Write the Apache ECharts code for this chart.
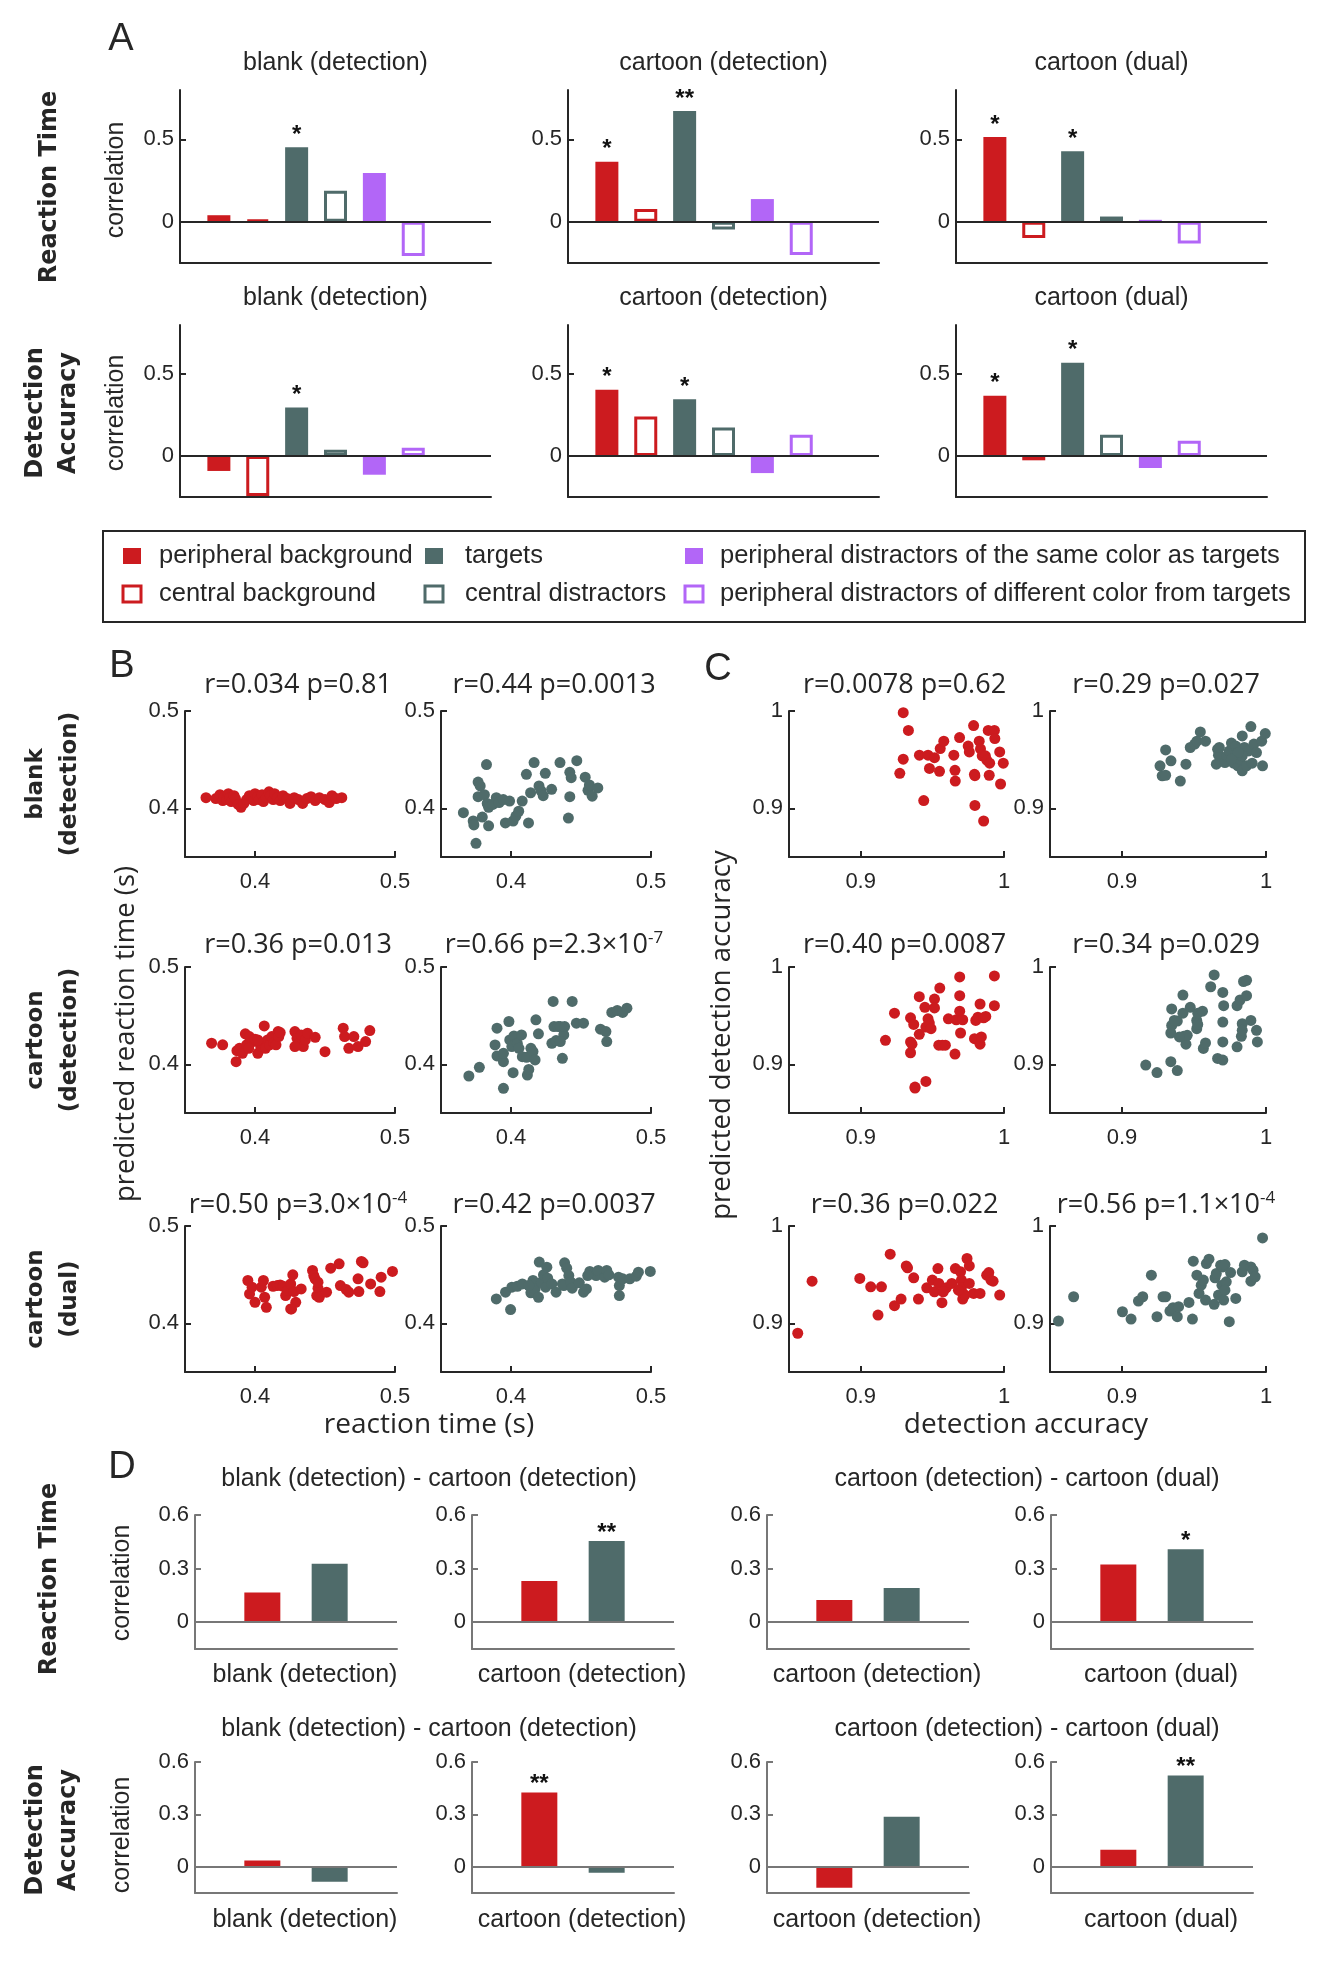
<!DOCTYPE html>
<html><head><meta charset="utf-8">
<script src="https://cdn.jsdelivr.net/npm/echarts@6/dist/echarts.min.js"></script>
<style>html,body{margin:0;padding:0;background:#fff}#c{width:1317px;height:1975px}</style>
</head><body><div id="c"></div>
<script>
// ---------------- DATA ----------------
const CONDITIONS = ['blank (detection)', 'cartoon (detection)', 'cartoon (dual)'];
const LEGEND_LABELS = ['peripheral background', 'central background', 'targets', 'central distractors',
  'peripheral distractors of the same color as targets', 'peripheral distractors of different color from targets'];

// Panel A: correlation per region (order = legend order)
const RT_BLANK = [0.04, 0.012, 0.453, 0.188, 0.296, -0.208];
const RT_CDET  = [0.364, 0.077, 0.672, -0.047, 0.138, -0.202];
const RT_CDUAL = [0.514, -0.099, 0.429, 0.032, 0.012, -0.132];
const DA_BLANK = [-0.091, -0.244, 0.297, 0.039, -0.114, 0.051];
const DA_CDET  = [0.404, 0.242, 0.346, 0.175, -0.104, 0.13];
const DA_CDUAL = [0.368, -0.026, 0.569, 0.13, -0.073, 0.093];
const RT_BLANK_SIG = ['', '', '*', '', '', ''];
const RT_CDET_SIG  = ['*', '', '**', '', '', ''];
const RT_CDUAL_SIG = ['*', '', '*', '', '', ''];
const DA_BLANK_SIG = ['', '', '*', '', '', ''];
const DA_CDET_SIG  = ['*', '', '*', '', '', ''];
const DA_CDUAL_SIG = ['*', '', '*', '', '', ''];
const A_YTICKS = [0, 0.5];

// Panel B: [reaction time, predicted reaction time]
const B_BLANK_BG = [[0.365,0.411],[0.372,0.410],[0.375,0.414],[0.377,0.408],[0.378,0.412],[0.380,0.409],[0.381,0.415],[0.382,0.411],[0.383,0.407],[0.385,0.413],[0.386,0.410],[0.388,0.404],[0.390,0.401],[0.392,0.405],[0.394,0.409],[0.396,0.413],[0.398,0.411],[0.399,0.408],[0.400,0.415],[0.402,0.412],[0.403,0.409],[0.405,0.414],[0.406,0.407],[0.408,0.411],[0.410,0.417],[0.411,0.413],[0.413,0.409],[0.414,0.415],[0.416,0.411],[0.418,0.408],[0.420,0.413],[0.423,0.410],[0.425,0.405],[0.428,0.411],[0.431,0.409],[0.434,0.405],[0.437,0.410],[0.440,0.412],[0.443,0.408],[0.446,0.411],[0.450,0.409],[0.453,0.406],[0.455,0.413],[0.458,0.410],[0.462,0.411]];
const B_BLANK_TG = [[0.366,0.3955],[0.373,0.387],[0.3735,0.383],[0.375,0.364],[0.3765,0.427],[0.3765,0.412],[0.378,0.423],[0.3795,0.391],[0.381,0.414],[0.3825,0.445],[0.383,0.405],[0.384,0.382],[0.384,0.401],[0.387,0.404],[0.3895,0.411],[0.3915,0.406],[0.3945,0.409],[0.396,0.385],[0.399,0.4075],[0.4015,0.387],[0.4035,0.392],[0.4055,0.397],[0.408,0.4075],[0.411,0.435],[0.4125,0.385],[0.414,0.416],[0.4165,0.447],[0.420,0.423],[0.4215,0.418],[0.423,0.413],[0.4245,0.436],[0.429,0.4195],[0.435,0.447],[0.441,0.390],[0.442,0.412],[0.442,0.437],[0.443,0.4315],[0.447,0.449],[0.453,0.432],[0.455,0.4185],[0.456,0.424],[0.458,0.4125],[0.462,0.421]];
const B_CDET_BG = [[0.369,0.4217],[0.3769,0.420],[0.3865,0.4027],[0.3871,0.414],[0.3889,0.4165],[0.391,0.4113],[0.3931,0.4313],[0.394,0.420],[0.396,0.4285],[0.3985,0.4234],[0.400,0.4258],[0.402,0.4113],[0.404,0.4189],[0.405,0.4216],[0.4066,0.4395],[0.4075,0.4165],[0.409,0.4251],[0.4105,0.420],[0.412,0.4285],[0.4135,0.4223],[0.415,0.420],[0.4165,0.4337],[0.417,0.4285],[0.418,0.4326],[0.4285,0.4337],[0.430,0.4268],[0.4315,0.4216],[0.433,0.4302],[0.4345,0.4182],[0.436,0.4251],[0.4375,0.432],[0.443,0.4278],[0.450,0.413],[0.463,0.4371],[0.464,0.4285],[0.467,0.4165],[0.4706,0.4285],[0.4736,0.4182],[0.479,0.4234],[0.482,0.4347],[0.4285,0.4182],[0.402,0.4251],[0.3955,0.4165]];
const B_CDET_TG = [[0.3699,0.388],[0.3774,0.3969],[0.3886,0.4199],[0.390,0.4371],[0.390,0.4086],[0.3946,0.4027],[0.3946,0.4113],[0.3946,0.3753],[0.3985,0.444],[0.3991,0.4251],[0.4006,0.4182],[0.4015,0.3914],[0.4021,0.4292],[0.4045,0.4216],[0.4057,0.4165],[0.4075,0.4302],[0.4081,0.4079],[0.4111,0.4072],[0.4117,0.389],[0.4127,0.3948],[0.4142,0.4165],[0.4157,0.4131],[0.4172,0.4045],[0.4178,0.4457],[0.4196,0.4313],[0.4292,0.4216],[0.4301,0.4646],[0.4307,0.4388],[0.4322,0.4244],[0.4337,0.4388],[0.4352,0.4388],[0.4367,0.4062],[0.4377,0.4302],[0.4383,0.4388],[0.4437,0.4646],[0.4467,0.4423],[0.4518,0.4423],[0.4639,0.4361],[0.4678,0.4337],[0.4684,0.4234],[0.472,0.4533],[0.4759,0.4553],[0.4798,0.4533],[0.4828,0.4577],[0.4352,0.4234]];
const B_CDUAL_BG = [[0.3949,0.444],[0.3961,0.4302],[0.3979,0.4371],[0.400,0.4216],[0.4045,0.4371],[0.406,0.444],[0.4069,0.4268],[0.4081,0.4165],[0.4129,0.4381],[0.4159,0.4388],[0.418,0.4395],[0.4201,0.4381],[0.4219,0.4285],[0.4231,0.4337],[0.4255,0.4405],[0.4261,0.4148],[0.427,0.4498],[0.4279,0.4326],[0.4291,0.4216],[0.433,0.4354],[0.4411,0.4543],[0.442,0.4491],[0.4429,0.4457],[0.4441,0.4285],[0.445,0.4361],[0.4459,0.4268],[0.4511,0.432],[0.4541,0.4567],[0.4601,0.4612],[0.461,0.4388],[0.4652,0.4347],[0.467,0.432],[0.4736,0.4457],[0.4742,0.4326],[0.476,0.4636],[0.4772,0.4622],[0.4826,0.4405],[0.4892,0.4326],[0.4901,0.4474],[0.4982,0.4533],[0.4255,0.4148],[0.445,0.4423]];
const B_CDUAL_TG = [[0.3895,0.4251],[0.3961,0.432],[0.3997,0.4141],[0.4006,0.4371],[0.4045,0.4381],[0.4081,0.4405],[0.4142,0.4313],[0.4157,0.444],[0.4172,0.4354],[0.4196,0.4268],[0.4202,0.4629],[0.4217,0.4423],[0.4232,0.4498],[0.4247,0.4371],[0.4256,0.4577],[0.4262,0.4464],[0.4292,0.4405],[0.4322,0.432],[0.4367,0.4405],[0.4377,0.4388],[0.4383,0.4622],[0.4398,0.4567],[0.4413,0.4491],[0.4428,0.4423],[0.4437,0.4361],[0.4488,0.4416],[0.4518,0.432],[0.4539,0.4354],[0.4563,0.4533],[0.4608,0.4491],[0.4623,0.4543],[0.4669,0.4474],[0.4684,0.4543],[0.4699,0.4498],[0.4768,0.4474],[0.4774,0.4388],[0.4774,0.4285],[0.4798,0.4457],[0.4849,0.4457],[0.4895,0.4485],[0.491,0.4526],[0.4995,0.4533],[0.4127,0.4388],[0.4548,0.4491]];

// Panel C: [detection accuracy, predicted detection accuracy]
const C_BLANK_BG = [[0.9297,0.9983],[0.9333,0.980],[0.9297,0.9505],[0.9273,0.936],[0.941,0.9546],[0.944,0.908],[0.947,0.9546],[0.948,0.941],[0.9515,0.952],[0.955,0.938],[0.9555,0.9614],[0.958,0.969],[0.965,0.9546],[0.9658,0.939],[0.966,0.928],[0.969,0.9727],[0.975,0.964],[0.9758,0.958],[0.9788,0.985],[0.9794,0.935],[0.9797,0.9335],[0.9797,0.903],[0.9827,0.969],[0.9836,0.961],[0.9848,0.954],[0.9858,0.887],[0.987,0.954],[0.988,0.9495],[0.989,0.980],[0.9897,0.934],[0.990,0.9464],[0.9933,0.980],[0.9936,0.9717],[0.997,0.958],[0.9976,0.925],[0.9995,0.9464]];
const C_BLANK_TG = [[0.9264,0.9437],[0.9279,0.9334],[0.9303,0.960],[0.9303,0.934],[0.934,0.9488],[0.9405,0.928],[0.9444,0.9454],[0.9474,0.9625],[0.9505,0.966],[0.9544,0.9785],[0.952,0.969],[0.958,0.969],[0.9655,0.9454],[0.9664,0.9607],[0.967,0.9546],[0.9676,0.9625],[0.9715,0.9471],[0.973,0.954],[0.9745,0.959],[0.976,0.967],[0.9775,0.9464],[0.979,0.964],[0.9805,0.9437],[0.982,0.9505],[0.9835,0.9744],[0.9835,0.9386],[0.985,0.9625],[0.9865,0.9437],[0.988,0.959],[0.9895,0.984],[0.9904,0.9464],[0.9916,0.966],[0.9934,0.9573],[0.997,0.969],[0.9976,0.9437],[0.9995,0.9768],[0.9835,0.9539],[0.9805,0.9573],[0.976,0.9505]];
const C_CDET_BG = [[0.9173,0.9247],[0.9236,0.9525],[0.9348,0.9478],[0.9348,0.923],[0.9348,0.9119],[0.9358,0.9207],[0.937,0.941],[0.9379,0.8766],[0.9409,0.9695],[0.9409,0.9308],[0.9448,0.9586],[0.9455,0.8824],[0.9455,0.9383],[0.947,0.9468],[0.9479,0.9424],[0.9491,0.9366],[0.9515,0.9671],[0.9515,0.958],[0.9552,0.9783],[0.9545,0.9197],[0.957,0.9197],[0.9591,0.9197],[0.9612,0.9468],[0.9658,0.9105],[0.9667,0.9458],[0.9691,0.9898],[0.9691,0.9705],[0.9691,0.9546],[0.9697,0.9322],[0.9712,0.9458],[0.9794,0.9264],[0.9803,0.9451],[0.9818,0.9485],[0.9833,0.962],[0.9833,0.9207],[0.9842,0.9281],[0.9858,0.9478],[0.9873,0.9492],[0.9933,0.9908],[0.9933,0.9603],[0.9379,0.8756]];
const C_CDET_TG = [[0.9165,0.8993],[0.9243,0.8915],[0.9339,0.9027],[0.9384,0.8936],[0.9339,0.9322],[0.9345,0.9569],[0.9345,0.94],[0.9384,0.9444],[0.9423,0.9712],[0.9423,0.9525],[0.9429,0.9288],[0.9444,0.9207],[0.9453,0.9298],[0.9474,0.9586],[0.9519,0.9451],[0.9519,0.9366],[0.9526,0.9525],[0.9559,0.9546],[0.9565,0.9163],[0.958,0.922],[0.9616,0.9797],[0.964,0.9919],[0.9664,0.9061],[0.97,0.9739],[0.97,0.9434],[0.97,0.923],[0.97,0.9044],[0.9706,0.9603],[0.9799,0.918],[0.9799,0.9603],[0.982,0.9661],[0.9829,0.9288],[0.9835,0.9417],[0.9835,0.9349],[0.9844,0.9851],[0.9865,0.9864],[0.9865,0.9705],[0.9895,0.9451],[0.9934,0.9349],[0.994,0.923],[0.9526,0.941],[0.9399,0.9281],[0.9363,0.9451]];
const C_CDUAL_BG = [[0.8561,0.8898],[0.8661,0.9433],[0.8994,0.9461],[0.907,0.9375],[0.9121,0.9085],[0.9145,0.9375],[0.9206,0.971],[0.9236,0.9181],[0.9282,0.9249],[0.9318,0.959],[0.9327,0.957],[0.937,0.9468],[0.9403,0.9249],[0.9461,0.9365],[0.95,0.9444],[0.9515,0.9324],[0.9545,0.941],[0.9567,0.9212],[0.9597,0.9365],[0.9636,0.941],[0.9661,0.9563],[0.9697,0.9529],[0.9703,0.9444],[0.9703,0.9365],[0.9712,0.9307],[0.9712,0.9249],[0.9727,0.929],[0.9742,0.9666],[0.9758,0.959],[0.9758,0.941],[0.9788,0.9307],[0.9833,0.9307],[0.9879,0.9495],[0.9894,0.9522],[0.9909,0.9444],[0.9924,0.9433],[0.997,0.929],[0.9682,0.9341],[0.9576,0.9324],[0.9539,0.9563]];
const C_CDUAL_TG = [[0.8559,0.9024],[0.8664,0.9273],[0.9003,0.9119],[0.9063,0.9044],[0.9114,0.9229],[0.9144,0.9273],[0.9204,0.9495],[0.9243,0.9068],[0.9285,0.9273],[0.9303,0.9273],[0.9333,0.9126],[0.9354,0.916],[0.9384,0.9068],[0.9393,0.9171],[0.9465,0.9215],[0.9489,0.9044],[0.9495,0.9638],[0.9535,0.9307],[0.955,0.9392],[0.9565,0.9444],[0.958,0.9239],[0.9586,0.9614],[0.9604,0.9659],[0.964,0.9195],[0.9646,0.9468],[0.9655,0.9512],[0.967,0.929],[0.9685,0.9597],[0.9694,0.9392],[0.97,0.958],[0.9706,0.9239],[0.9715,0.9604],[0.9724,0.9427],[0.9745,0.9017],[0.9754,0.9522],[0.979,0.9256],[0.9835,0.9529],[0.985,0.9597],[0.9895,0.958],[0.9895,0.9433],[0.991,0.9546],[0.9925,0.9478],[0.9976,0.9877],[0.952,0.9495],[0.9715,0.9341]];

const B_TITLES = [['r=0.034 p=0.81', 'r=0.44 p=0.0013'], ['r=0.36 p=0.013', 'r=0.66 p=2.3×10{sup|-7}'], ['r=0.50 p=3.0×10{sup|-4}', 'r=0.42 p=0.0037']];
const C_TITLES = [['r=0.0078 p=0.62', 'r=0.29 p=0.027'], ['r=0.40 p=0.0087', 'r=0.34 p=0.029'], ['r=0.36 p=0.022', 'r=0.56 p=1.1×10{sup|-4}']];
const RT_TICKS = [0.4, 0.5];
const DA_TICKS = [0.9, 1];

// Panel D: [peripheral background, targets] per comparison chart
const D_GROUP_TITLES = ['blank (detection) - cartoon (detection)', 'cartoon (detection) - cartoon (dual)'];
const D_LABELS = ['blank (detection)', 'cartoon (detection)', 'cartoon (detection)', 'cartoon (dual)'];
const D_RT_BG = [0.166, 0.231, 0.124, 0.323];
const D_RT_TG = [0.327, 0.455, 0.191, 0.409];
const D_DA_BG = [0.036, 0.426, -0.12, 0.098];
const D_DA_TG = [-0.086, -0.034, 0.287, 0.522];
const D_RT_SIG = [['', ''], ['', '**'], ['', ''], ['', '*']];
const D_DA_SIG = [['', ''], ['**', ''], ['', ''], ['', '**']];
const D_YTICKS = [0, 0.3, 0.6];

// ---------------- STYLE / LAYOUT ----------------
const AX = '#262626', DGRAY = '#777777';
const RED = '#CC1B1F', DARK = '#4F6B6A', PURPLE = '#B266F7';
const FA = '"Liberation Sans", Arial, Helvetica, sans-serif';
const FO = '"Open Sans", "Noto Sans", sans-serif';
const FB = '"DejaVu Sans", Verdana, sans-serif';
const A_COLORS = [RED, RED, DARK, DARK, PURPLE, PURPLE];
const A_FILLED = [true, false, true, false, true, false];

const grids = [], xAxes = [], yAxes = [], series = [], graphics = [];

function addGrid(left, top, width, height) {
  grids.push({left, top, width, height, containLabel: false});
  return grids.length - 1;
}
function text(x, y, str, o) {
  o = o || {};
  graphics.push({type: 'text', x, y, rotation: o.rot || 0, silent: true,
    style: Object.assign({text: str, fill: AX, fontSize: o.size || 25, fontFamily: o.family || FA,
      fontWeight: o.weight || 'normal', align: o.align || 'center', verticalAlign: 'middle',
      lineHeight: o.lh || undefined}, o.extra || {})});
}
function valAxis(g, min, max, ticks, color, extra) {
  const base = {gridIndex: g, type: 'value', min, max,
    axisLine: {show: true, onZero: false, lineStyle: {color, width: 2}},
    splitLine: {show: false}};
  if (ticks) {
    base.axisTick = {show: true, inside: true, length: 6, lineStyle: {color, width: 2}, customValues: ticks};
    base.axisLabel = {show: true, customValues: ticks, formatter: v => String(v), color: AX,
      fontSize: 22, fontFamily: FA, margin: 6};
  } else {
    base.axisTick = {show: false};
    base.axisLabel = {show: false};
  }
  return Object.assign(base, extra || {});
}

// ---------- Panel A ----------
const A_VALUES = [[RT_BLANK, RT_CDET, RT_CDUAL], [DA_BLANK, DA_CDET, DA_CDUAL]];
const A_SIGS = [[RT_BLANK_SIG, RT_CDET_SIG, RT_CDUAL_SIG], [DA_BLANK_SIG, DA_CDET_SIG, DA_CDUAL_SIG]];
const A_LEFT = [180, 568, 956], A_W = 311, A_TOP = [90, 325], A_H = [173, 172], A_TITLE_Y = [63, 298];
for (let r = 0; r < 2; r++) for (let c = 0; c < 3; c++) {
  const g = addGrid(A_LEFT[c], A_TOP[r], A_W, A_H[r]);
  xAxes.push(valAxis(g, 0, 8, null, AX));
  yAxes.push(valAxis(g, -0.25, 0.8, A_YTICKS, AX));
  const vals = A_VALUES[r][c], sig = A_SIGS[r][c];
  series.push({type: 'bar', xAxisIndex: g, yAxisIndex: g, barWidth: 23, silent: true,
    data: vals.map((v, i) => ({value: [i + 1, v],
      itemStyle: A_FILLED[i] ? {color: A_COLORS[i], borderColor: A_COLORS[i], borderWidth: 0}
                             : {color: '#ffffff', borderColor: A_COLORS[i], borderWidth: 3},
      label: {show: !!sig[i], formatter: sig[i], position: 'top', distance: 0,
        fontSize: 24, fontFamily: FA, color: '#111', fontWeight: 'bold'}})),
    markLine: {silent: true, symbol: 'none', label: {show: false}, animation: false,
      lineStyle: {color: AX, width: 2, type: 'solid'}, data: [{yAxis: 0}]}
  });
  text(A_LEFT[c] + A_W / 2, A_TITLE_Y[r], CONDITIONS[c]);
}
text(121, 40, 'A', {size: 38});
text(50, 187, 'Reaction Time', {rot: Math.PI / 2, size: 24, family: FB, weight: 'bold'});
text(116, 180, 'correlation', {rot: Math.PI / 2});
text(52, 413, 'Detection\nAccuracy', {rot: Math.PI / 2, size: 24, family: FB, weight: 'bold', lh: 33});
text(116, 413, 'correlation', {rot: Math.PI / 2});

// legend box
graphics.push({type: 'rect', silent: true, shape: {x: 103, y: 531, width: 1202, height: 91},
  style: {fill: 'none', stroke: AX, lineWidth: 2}});
const LEG_SQ_X = [132, 434, 694], LEG_TX_X = [159, 465, 720], LEG_Y = [556, 594];
for (let i = 0; i < 6; i++) {
  const col = Math.floor(i / 2), row = i % 2;
  const filled = A_FILLED[i];
  graphics.push({type: 'rect', silent: true,
    shape: {x: LEG_SQ_X[col] - 9, y: LEG_Y[row] - 8, width: 18, height: 16},
    style: filled ? {fill: A_COLORS[i], stroke: A_COLORS[i], lineWidth: 0}
                  : {fill: '#fff', stroke: A_COLORS[i], lineWidth: 3}});
  text(LEG_TX_X[col], LEG_Y[row], LEGEND_LABELS[i], {align: 'left', size: 25.5});
}

// ---------- Panels B & C ----------
const SC_DATA = [
  [B_BLANK_BG, B_BLANK_TG, C_BLANK_BG, C_BLANK_TG],
  [B_CDET_BG, B_CDET_TG, C_CDET_BG, C_CDET_TG],
  [B_CDUAL_BG, B_CDUAL_TG, C_CDUAL_BG, C_CDUAL_TG]];
const SC_TITLES = B_TITLES.map((row, r) => row.concat(C_TITLES[r]));
const SC_LEFT = [185, 441, 789, 1050], SC_W = [210, 210, 215, 216], SC_TOP = [711, 967, 1226], SC_H = 146;
const SC_TITLE_Y = [685, 945, 1205];
for (let r = 0; r < 3; r++) for (let c = 0; c < 4; c++) {
  const g = addGrid(SC_LEFT[c], SC_TOP[r], SC_W[c], SC_H);
  const isRT = c < 2;
  const rng = isRT ? [0.35, 0.5] : [0.85, 1];
  const ticks = isRT ? RT_TICKS : DA_TICKS;
  const xa = valAxis(g, rng[0], rng[1], ticks, AX);
  xa.axisLabel.margin = 14;
  xAxes.push(xa);
  yAxes.push(valAxis(g, rng[0], rng[1], ticks, AX));
  series.push({type: 'scatter', xAxisIndex: g, yAxisIndex: g, silent: true, symbol: 'circle', symbolSize: 11,
    itemStyle: {color: c % 2 === 0 ? RED : DARK, opacity: 1}, data: SC_DATA[r][c]});
  text(SC_LEFT[c] + SC_W[c] / 2 + 8, SC_TITLE_Y[r], SC_TITLES[r][c], {size: 27, family: FO, lh: 30,
    extra: {rich: {sup: {fontSize: 17, fontFamily: FO, fill: AX, verticalAlign: 'top', lineHeight: 10}}}});
}
text(122, 667, 'B', {size: 38});
text(718, 670, 'C', {size: 38});
const SC_ROW_LABELS = ['blank\n(detection)', 'cartoon\n(detection)', 'cartoon\n(dual)'];
const SC_ROW_Y = [784, 1040, 1299];
SC_ROW_LABELS.forEach((s, r) => text(53, SC_ROW_Y[r], s, {rot: Math.PI / 2, size: 23, family: FB, weight: 'bold', lh: 34}));
text(126, 1034, 'predicted reaction time (s)', {rot: Math.PI / 2, size: 27.5, family: FO});
text(722, 1035, 'predicted detection accuracy', {rot: Math.PI / 2, size: 27.5, family: FO});
text(429, 1425, 'reaction time (s)', {size: 28, family: FO});
text(1026, 1425, 'detection accuracy', {size: 28, family: FO});

// ---------- Panel D ----------
const D_ROWS = [[D_RT_BG, D_RT_TG, D_RT_SIG], [D_DA_BG, D_DA_TG, D_DA_SIG]];
const D_LEFT = [195, 472, 767, 1051], D_W = 202, D_TOP = [1515, 1762], D_H = [134, 131];
const D_TITLE_Y = [1479, 1729], D_TITLE_X = [429, 1027], D_LABEL_Y = [1675, 1920];
for (let r = 0; r < 2; r++) {
  for (let c = 0; c < 4; c++) {
    const g = addGrid(D_LEFT[c], D_TOP[r], D_W, D_H[r]);
    xAxes.push(valAxis(g, 0, 3, null, DGRAY));
    yAxes.push(valAxis(g, -0.15, 0.6, D_YTICKS, DGRAY));
    const vals = [D_ROWS[r][0][c], D_ROWS[r][1][c]];
    const sig = D_ROWS[r][2][c];
    const cols = [RED, DARK];
    series.push({type: 'bar', xAxisIndex: g, yAxisIndex: g, barWidth: 36, silent: true,
      data: vals.map((v, i) => ({value: [i + 1, v], itemStyle: {color: cols[i]},
        label: {show: !!sig[i], formatter: sig[i], position: 'top', distance: -4,
          fontSize: 24, fontFamily: FA, color: '#111', fontWeight: 'bold'}})),
      markLine: {silent: true, symbol: 'none', label: {show: false}, animation: false,
        lineStyle: {color: DGRAY, width: 2, type: 'solid'}, data: [{yAxis: 0}]}
    });
    text(D_LEFT[c] + D_W / 2 + 9, D_LABEL_Y[r], D_LABELS[c]);
  }
  D_GROUP_TITLES.forEach((t, k) => text(D_TITLE_X[k], D_TITLE_Y[r], t));
}
text(122, 1468, 'D', {size: 38});
text(50, 1579, 'Reaction Time', {rot: Math.PI / 2, size: 24, family: FB, weight: 'bold'});
text(122, 1583, 'correlation', {rot: Math.PI / 2});
text(52, 1830, 'Detection\nAccuracy', {rot: Math.PI / 2, size: 24, family: FB, weight: 'bold', lh: 33});
text(122, 1835, 'correlation', {rot: Math.PI / 2});

const chart = echarts.init(document.getElementById('c'), null, {renderer: 'canvas'});
chart.setOption({
  animation: false,
  backgroundColor: '#ffffff',
  grid: grids, xAxis: xAxes, yAxis: yAxes, series,
  graphic: {elements: graphics}
});
</script></body></html>
